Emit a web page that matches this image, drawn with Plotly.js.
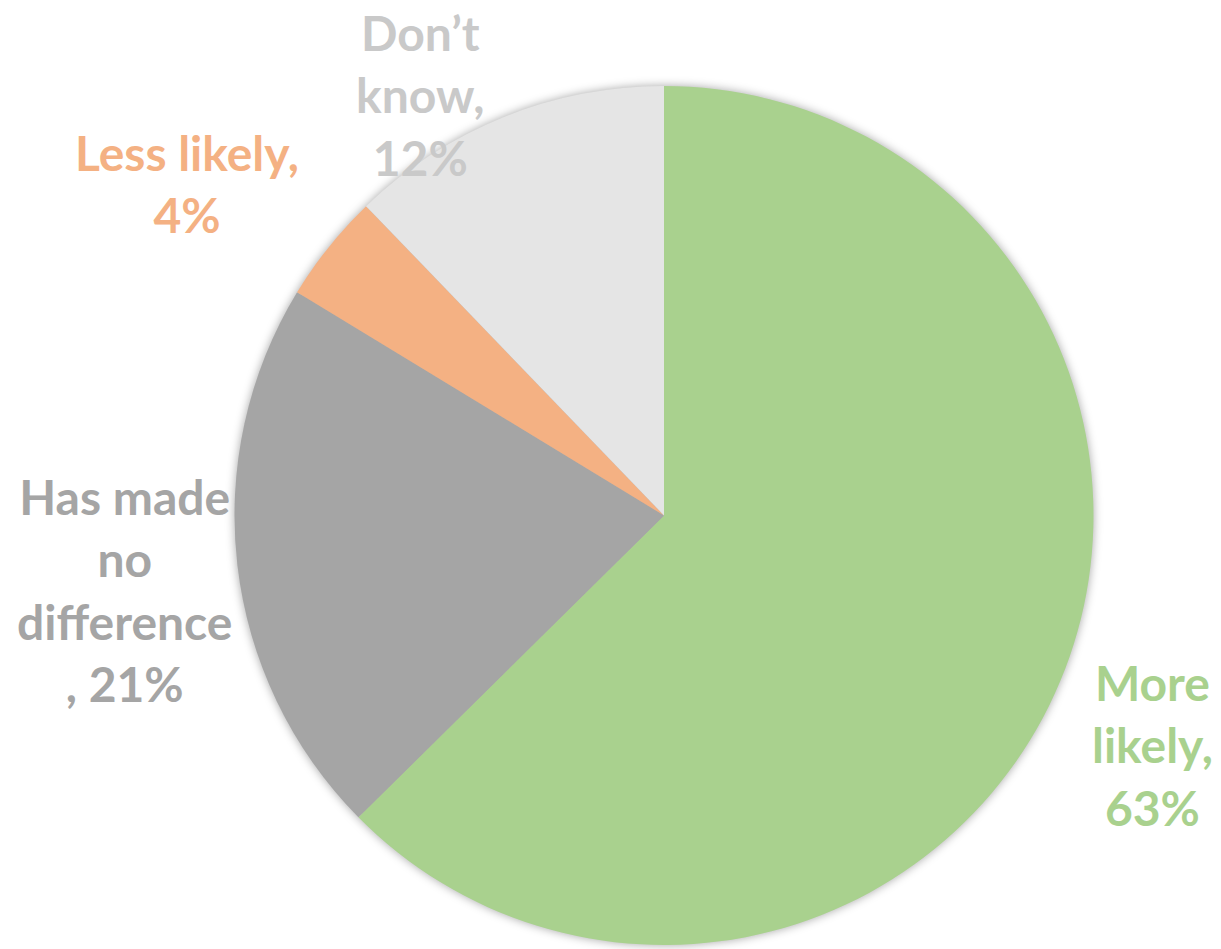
<!DOCTYPE html>
<html>
<head>
<meta charset="utf-8">
<script src="https://cdn.plot.ly/plotly-3.0.1.min.js"></script>
<style>
html,body{margin:0;padding:0;background:#fff;}
#chart{width:1221px;height:949px;}
.pielayer .trace{filter:drop-shadow(0px 0px 5px rgba(0,0,0,0.35));}
</style>
</head>
<body>
<div id="chart"></div>
<script>
const categories = ["More likely", "Has made no difference", "Less likely", "Don’t know"];
const values = [62.6, 21.1, 4.1, 12.2];
const labelLines = [
  ["More", "likely,"],
  ["Has made", "no", "difference", ","],
  ["Less likely,"],
  ["Don’t", "know,"]
];
const sliceColors = ["#A9D18E", "#A5A5A5", "#F4B183", "#E5E5E5"];
const labelColors = ["#A9D18E", "#A5A5A5", "#F4B183", "#C9C9C9"];

// label anchor positions in pixels (centre of the text block)
const labelPos = [[1152, 745], [125, 590], [187, 183], [420, 95]];

const W = 1221, H = 949;
const margin = {l: 234, r: 127, t: 86, b: 4};
const pw = W - margin.l - margin.r, ph = H - margin.t - margin.b;

function labelText(i) {
  const lines = labelLines[i].slice();
  const pct = Math.round(values[i]) + "%";
  if (lines[lines.length - 1] === ",") {
    lines[lines.length - 1] = ", " + pct;
  } else {
    lines.push(pct);
  }
  return lines.join("<br>");
}

const annotations = categories.map((c, i) => ({
  xref: "paper", yref: "paper",
  x: (labelPos[i][0] - margin.l) / pw,
  y: 1 - (labelPos[i][1] - margin.t) / ph,
  xanchor: "center", yanchor: "middle",
  text: labelText(i),
  showarrow: false,
  align: "center",
  font: {family: "Lato, 'Open Sans', sans-serif", size: 48, color: labelColors[i], weight: 700}
}));

const trace = {
  type: "pie",
  labels: categories,
  values: values,
  sort: false,
  direction: "clockwise",
  rotation: 0,
  textinfo: "none",
  hoverinfo: "label+percent",
  marker: {colors: sliceColors, line: {width: 0}},
  showlegend: false
};

Plotly.newPlot("chart", [trace], {
  width: W, height: H,
  margin: margin,
  paper_bgcolor: "#ffffff",
  plot_bgcolor: "#ffffff",
  showlegend: false,
  annotations: annotations
}, {displayModeBar: false, staticPlot: true});
</script>
</body>
</html>
